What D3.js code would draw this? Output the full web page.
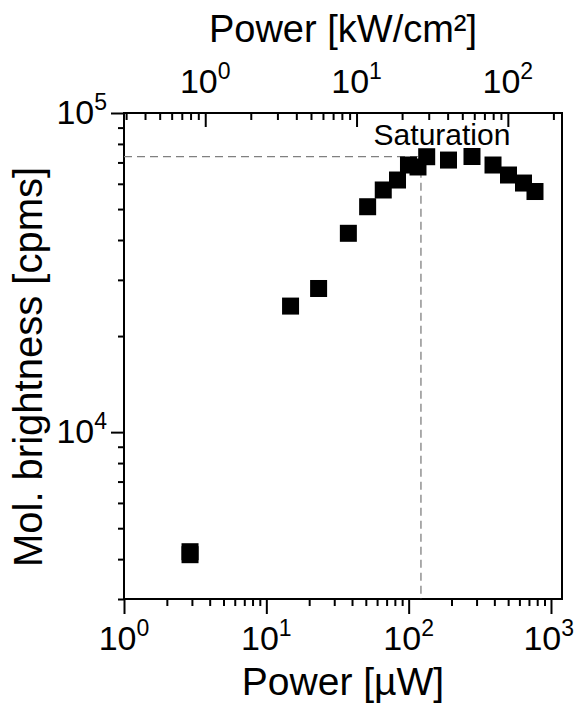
<!DOCTYPE html>
<html><head><meta charset="utf-8">
<script src="https://cdn.jsdelivr.net/npm/d3@7"></script>
<style>
body{margin:0;background:#fff}
svg{display:block}
text{font-family:"Liberation Sans",Arial,sans-serif;fill:#000}
</style>
</head><body>
<svg id="c" width="575" height="713"></svg>
<script>
// Data
const powerUW    = [2.91, 2.91, 14.8, 23.3, 37.7, 51.5, 66.3, 83.5, 99.7, 116.3, 133.9, 190.5, 278.6, 391.4, 502.9, 641, 772];
const brightness = [4220, 4130, 24830, 28190, 41980, 50850, 57380, 61660, 68710, 67740, 72950, 71210, 73060, 68710, 63930, 60330, 56750];
const saturationPower = [122];
const saturationBrightness = [72950];
const saturationLabel = ["Saturation"];
const xBottomMajor = [1, 10, 100, 1000];
const xTopMajor = [1, 10, 100];
const yMajor = [1e4, 1e5];
const xBottomTitle = "Power [µW]";
const xTopTitle = "Power [kW/cm²]";
const yTitle = "Mol. brightness [cpms]";

const svg = d3.select("#c");
const W = 575;
const L = 124, R = 562, T = 113, B = 599;

const x = d3.scaleLog().domain([1, 1195]).range([L, R]);
const xTop = d3.scaleLog().domain([0.2905, 228]).range([L, R]);
const y = d3.scaleLog().domain([3000, 1e5]).range([B, T]);

const isMajor = v => Math.abs(Math.log10(v) - Math.round(Math.log10(v))) < 1e-9;

// Bottom axis
const gB = svg.append("g").attr("transform", `translate(0,${B})`);
gB.call(d3.axisBottom(x).tickValues(x.ticks().filter(v => !isMajor(v))).tickSize(7).tickFormat(""));
gB.call(g => g.append("g").call(d3.axisBottom(x).tickValues(xBottomMajor).tickSize(15).tickFormat("")));
// Top axis (ticks inward)
const gT = svg.append("g").attr("transform", `translate(0,${T})`);
gT.call(d3.axisTop(xTop).tickValues(xTop.ticks().filter(v => !isMajor(v))).tickSize(-7).tickFormat(""));
gT.call(g => g.append("g").call(d3.axisTop(xTop).tickValues(xTopMajor).tickSize(-14).tickFormat("")));
// Left axis
const gL = svg.append("g").attr("transform", `translate(${L},0)`);
gL.call(d3.axisLeft(y).tickValues(y.ticks().filter(v => !isMajor(v))).tickSize(6).tickFormat(""));
gL.call(g => g.append("g").call(d3.axisLeft(y).tickValues(yMajor).tickSize(13).tickFormat("")));

svg.selectAll(".domain").remove();
svg.selectAll(".tick line").attr("stroke", "#000").attr("stroke-width", 2);

// Frame
svg.append("rect").attr("x", L).attr("y", T).attr("width", R - L).attr("height", B - T)
  .attr("fill", "none").attr("stroke", "#000").attr("stroke-width", 2);

// Tick labels
function pow10Label(sel, v) {
  sel.append("tspan").text("10");
  sel.append("tspan").attr("font-size", 23).attr("dy", -14).text(Math.round(Math.log10(v)));
}
function keepInside(sel) {
  const bb = sel.node().getBBox();
  const over = bb.x + bb.width - (W - 1);
  if (over > 0) sel.attr("x", +sel.attr("x") - over);
}
xBottomMajor.forEach(v => {
  svg.append("text").attr("x", x(v)).attr("y", 650).attr("text-anchor", "middle")
    .attr("font-size", 34).call(s => pow10Label(s, v)).call(keepInside);
});
xTopMajor.forEach(v => {
  svg.append("text").attr("x", xTop(v)).attr("y", 93).attr("text-anchor", "middle")
    .attr("font-size", 34).call(s => pow10Label(s, v)).call(keepInside);
});
yMajor.forEach(v => {
  svg.append("text").attr("x", 107).attr("y", y(v) + 11).attr("text-anchor", "end")
    .attr("font-size", 34).call(s => pow10Label(s, v));
});

// Titles
svg.append("text").attr("x", (L + R) / 2).attr("y", 695).attr("text-anchor", "middle")
  .attr("font-size", 39).text(xBottomTitle);
svg.append("text").attr("x", (L + R) / 2).attr("y", 42).attr("text-anchor", "middle")
  .attr("font-size", 38).text(xTopTitle);
svg.append("text").attr("transform", `translate(42,${367}) rotate(-90)`).attr("text-anchor", "middle")
  .attr("font-size", 40).text(yTitle);

// Saturation guide lines
const sx = x(saturationPower[0]), sy = y(saturationBrightness[0]);
svg.append("line").attr("x1", L).attr("x2", sx).attr("y1", sy).attr("y2", sy)
  .attr("stroke", "#808080").attr("stroke-width", 1.3).attr("stroke-dasharray", "8,5");
svg.append("line").attr("x1", sx).attr("x2", sx).attr("y1", sy).attr("y2", B)
  .attr("stroke", "#808080").attr("stroke-width", 1.3).attr("stroke-dasharray", "8,5");
svg.append("text").attr("x", 442).attr("y", 145).attr("text-anchor", "middle")
  .attr("font-size", 30).text(saturationLabel[0]);

// Markers
const s = 17;
svg.append("g").selectAll("rect").data(powerUW.map((p, i) => [p, brightness[i]])).join("rect")
  .attr("x", d => x(d[0]) - s / 2).attr("y", d => y(d[1]) - s / 2)
  .attr("width", s).attr("height", s).attr("fill", "#000");
</script>
</body></html>
